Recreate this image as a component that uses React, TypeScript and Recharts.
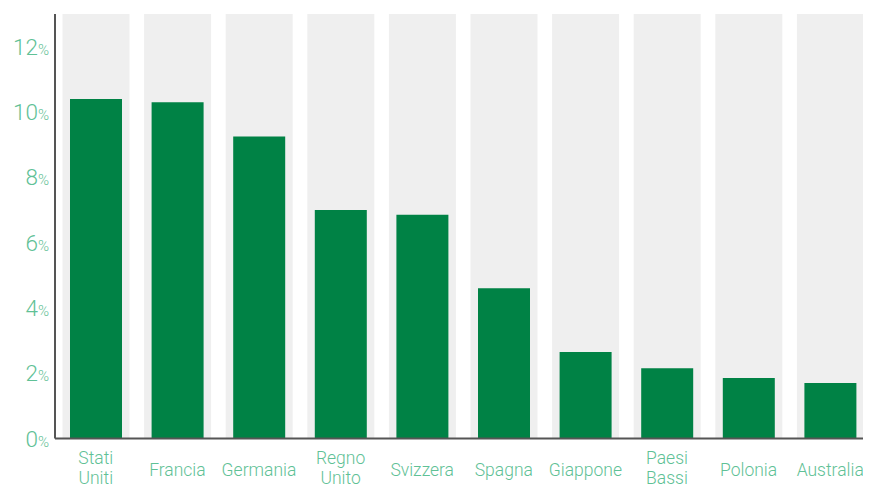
import React from 'react';
import { BarChart, Bar, XAxis, YAxis } from 'recharts';

const countries = [
  'Stati Uniti',
  'Francia',
  'Germania',
  'Regno Unito',
  'Svizzera',
  'Spagna',
  'Giappone',
  'Paesi Bassi',
  'Polonia',
  'Australia',
];
const shares = [10.4, 10.3, 9.25, 7.0, 6.85, 4.6, 2.65, 2.15, 1.85, 1.7];
const yTicks = [0, 2, 4, 6, 8, 10, 12];

const data = countries.map((name, i) => ({ name, value: shares[i] }));

const LABEL = '#5fc196';
const FONT = 'Roboto, "Noto Sans", sans-serif';

const YTick = (props: any) => {
  const { x, y, payload } = props;
  return (
    <text x={x} y={y} dy={8} textAnchor="end" fill={LABEL} fontFamily={FONT} fontWeight={300}>
      <tspan fontSize={22.5}>{payload.value}</tspan>
      <tspan fontSize={15}>%</tspan>
    </text>
  );
};

const XTick = (props: any) => {
  const { x, y, payload } = props;
  const lines = String(payload.value).split(' ');
  const first = lines.length > 1 ? 17 : 29.5;
  return (
    <text x={x} y={y} textAnchor="middle" fill={LABEL} fontFamily={FONT} fontWeight={300} fontSize={17.5}>
      {lines.map((l, i) => (
        <tspan key={i} x={x} dy={i === 0 ? first : 20}>
          {l}
        </tspan>
      ))}
    </text>
  );
};

const BandBackground = (props: any) => {
  const { x, y, width, height } = props;
  return <rect x={x - 7.5} y={y} width={width + 15} height={height} fill="#efefef" />;
};

export default function App() {
  return (
    <div style={{ margin: '-8px 0 0 -8px', width: 871, height: 485 }}>
      <BarChart width={871} height={485} data={data} margin={{ top: 14, right: 0, bottom: 0, left: 0 }}>
        <XAxis
          dataKey="name"
          height={46.5}
          tickLine={false}
          interval={0}
          tick={<XTick />}
          axisLine={{ stroke: '#555', strokeWidth: 2 }}
        />
        <YAxis
          width={55}
          domain={[0, 13]}
          ticks={yTicks}
          tickLine={false}
          tickMargin={0}
          tick={<YTick />}
          axisLine={{ stroke: '#555', strokeWidth: 2 }}
        />
        <Bar
          dataKey="value"
          fill="#008245"
          barSize={52}
          background={<BandBackground />}
          isAnimationActive={false}
        />
      </BarChart>
    </div>
  );
}
